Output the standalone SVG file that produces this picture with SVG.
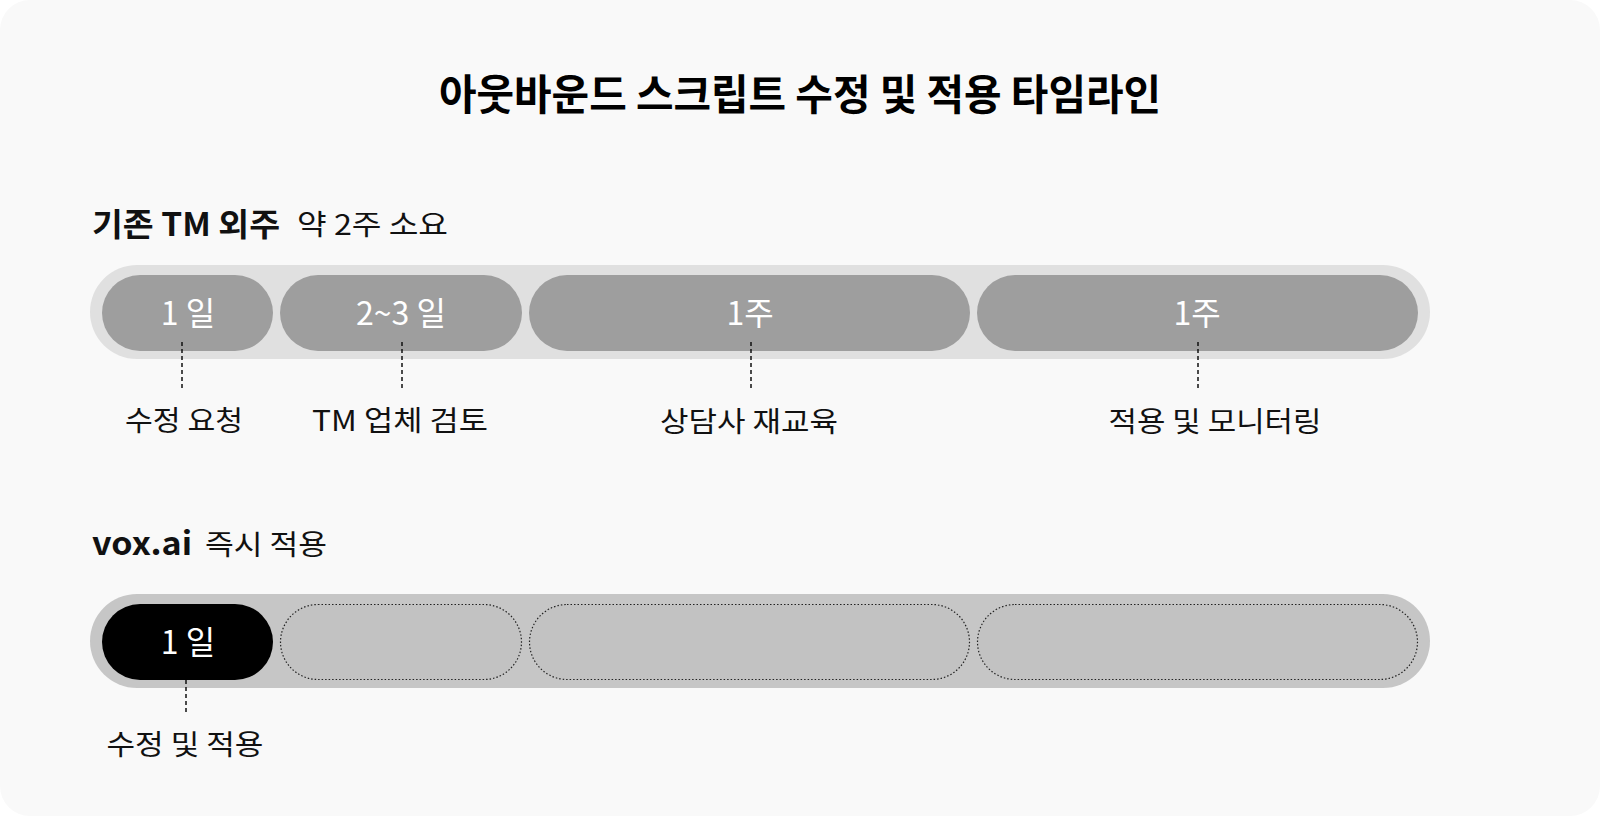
<svg xmlns="http://www.w3.org/2000/svg" width="1600" height="816" viewBox="0 0 1600 816">
<style>
  text { font-family: "Noto Sans CJK KR", "Noto Sans", sans-serif; }
  .title { font-size: 42px; font-weight: 700; fill: #000; }
  .head { font-size: 32px; font-weight: 700; fill: #111; }
  .sub { font-size: 28px; font-weight: 400; fill: #111; }
  .pilltxt { font-size: 32px; font-weight: 400; fill: #fff; text-anchor: middle; }
  .lbl { font-size: 28px; font-weight: 400; fill: #111; text-anchor: middle; }
  .track1 { fill: #e0e0e0; }
  .pill1 { fill: #9e9e9e; }
  .track2 { fill: #c6c6c6; }
  .ghost { fill: #c2c2c2; stroke: #222; stroke-width: 1.2; stroke-dasharray: 1.5 2; }
  .conn { stroke: #111; stroke-width: 1.5; stroke-dasharray: 4 3; fill: none; }
</style>
<rect x="0" y="0" width="1600" height="816" fill="#ffffff"/>
<rect x="0" y="0" width="1600" height="816" rx="30" fill="#f9f9f9"/>

<g id="title">
  <text class="title" x="800" y="110" text-anchor="middle" textLength="722" lengthAdjust="spacingAndGlyphs">아웃바운드 스크립트 수정 및 적용 타임라인</text>
</g>

<g id="section-tm">
  <text class="head" x="92" y="236" textLength="188" lengthAdjust="spacingAndGlyphs">기존 TM 외주</text>
  <text class="sub" x="297" y="235" textLength="151" lengthAdjust="spacingAndGlyphs">약 2주 소요</text>
</g>

<g id="track-tm">
  <rect class="track1" x="90" y="265" width="1340" height="94" rx="47"/>
</g>
<g id="tm-step1">
  <rect class="pill1" x="102" y="275" width="171" height="76" rx="38"/>
  <text class="pilltxt" x="188" y="325">1 일</text>
</g>
<g id="tm-step2">
  <rect class="pill1" x="280" y="275" width="242" height="76" rx="38"/>
  <text class="pilltxt" x="401" y="325">2~3 일</text>
</g>
<g id="tm-step3">
  <rect class="pill1" x="529" y="275" width="441" height="76" rx="38"/>
  <text class="pilltxt" x="750" y="325">1주</text>
</g>
<g id="tm-step4">
  <rect class="pill1" x="977" y="275" width="441" height="76" rx="38"/>
  <text class="pilltxt" x="1197" y="325">1주</text>
</g>

<g id="section-vox">
  <text class="head" x="92" y="555" textLength="100" lengthAdjust="spacingAndGlyphs">vox.ai</text>
  <text class="sub" x="205" y="555" textLength="122" lengthAdjust="spacingAndGlyphs">즉시 적용</text>
</g>

<g id="track-vox">
  <rect class="track2" x="90" y="594" width="1340" height="94" rx="47"/>
</g>
<g id="vox-step1">
  <rect x="102" y="604" width="171" height="76" rx="38" fill="#000"/>
  <text class="pilltxt" x="188" y="654">1 일</text>
</g>
<g id="vox-ghost2">
  <rect class="ghost" x="280.5" y="604.5" width="241" height="75" rx="37.5"/>
</g>
<g id="vox-ghost3">
  <rect class="ghost" x="529.5" y="604.5" width="440" height="75" rx="37.5"/>
</g>
<g id="vox-ghost4">
  <rect class="ghost" x="977.5" y="604.5" width="440" height="75" rx="37.5"/>
</g>

<g id="connectors">
  <line class="conn" x1="182" y1="342" x2="182" y2="390"/>
  <line class="conn" x1="402" y1="342" x2="402" y2="390"/>
  <line class="conn" x1="751" y1="342" x2="751" y2="390"/>
  <line class="conn" x1="1198" y1="342" x2="1198" y2="390"/>
  <line class="conn" x1="186" y1="680" x2="186" y2="713"/>
</g>

<g id="labels">
  <text class="lbl" x="184" y="431" textLength="118" lengthAdjust="spacingAndGlyphs">수정 요청</text>
  <text class="lbl" x="400" y="431" textLength="176" lengthAdjust="spacingAndGlyphs">TM 업체 검토</text>
  <text class="lbl" x="749" y="432" textLength="178" lengthAdjust="spacingAndGlyphs">상담사 재교육</text>
  <text class="lbl" x="1215" y="432" textLength="213" lengthAdjust="spacingAndGlyphs">적용 및 모니터링</text>
  <text class="lbl" x="185" y="755" textLength="157" lengthAdjust="spacingAndGlyphs">수정 및 적용</text>
</g>
</svg>
